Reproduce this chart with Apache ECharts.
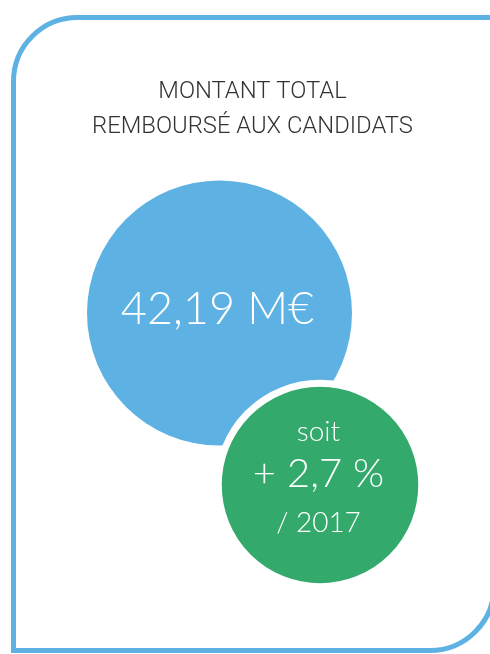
<!DOCTYPE html>
<html>
<head>
<meta charset="utf-8">
<script src="https://cdn.jsdelivr.net/npm/echarts@6/dist/echarts.min.js"></script>
<style>
  html, body { margin: 0; padding: 0; background: #fff; }
  #main { width: 490px; height: 654px; }
</style>
</head>
<body>
<div id="main"></div>
<script>
// donnees
var titleLines = ['MONTANT TOTAL', 'REMBOURSÉ AUX CANDIDATS'];
var bubbleNames = ['montant', 'evolution'];
var bubbleValues = ['42,19 M€', '+ 2,7 %'];
var bubbleBefore = ['', 'soit'];
var bubbleAfter = ['', '/ 2017'];

// mise en page (pixels)
var bubbleX = [219.5, 320];
var bubbleY = [313, 485];
var bubbleSize = [265, 203.5];
var bubbleColors = ['#5DB2E3', '#34A96C'];

var myChart = echarts.init(document.getElementById('main'));

var seriesData = [];
for (var i = 0; i < bubbleNames.length; i++) {
  seriesData.push({
    name: bubbleNames[i],
    value: [bubbleX[i], bubbleY[i]],
    symbolSize: bubbleSize[i],
    itemStyle: {
      color: bubbleColors[i],
      opacity: 1,
      borderColor: '#fff',
      borderWidth: i == 1 ? 7 : 0
    }
  });
}

var option = {
  animation: false,
  grid: { left: 0, right: 0, top: 0, bottom: 0 },
  xAxis: { type: 'value', min: 0, max: 490, show: false },
  yAxis: { type: 'value', min: 0, max: 654, inverse: true, show: false },
  graphic: [
    {
      type: 'rect',
      silent: true,
      shape: { x: 13.5, y: 17.5, width: 480.5, height: 633, r: [64, 0, 64, 0] },
      style: { fill: 'none', stroke: '#5DB2E3', lineWidth: 5 }
    },
    {
      type: 'text',
      silent: true,
      x: 252.5,
      y: 75,
      style: {
        text: titleLines.join('\n'),
        fill: '#333',
        font: '300 23.8px Roboto',
        lineHeight: 35,
        align: 'center',
        verticalAlign: 'top'
      }
    }
  ],
  series: [{
    type: 'scatter',
    symbol: 'circle',
    silent: true,
    data: seriesData,
    label: {
      show: true,
      position: 'inside',
      color: '#fff',
      fontFamily: 'Lato',
      fontWeight: 300,
      formatter: function (p) {
        var i = p.dataIndex;
        if (bubbleBefore[i] === '') return '{big|' + bubbleValues[i] + '}';
        return '{sm|' + bubbleBefore[i] + '}\n{mid|' + bubbleValues[i] + '}\n{sm2|' + bubbleAfter[i] + '}';
      },
      rich: {
        big: { fontSize: 45, fontFamily: 'Lato', fontWeight: 300, color: '#fff', lineHeight: 50 },
        sm: { fontSize: 28, fontFamily: 'Lato', fontWeight: 300, color: '#fff', lineHeight: 40.6 },
        mid: { fontSize: 40, fontFamily: 'Lato', fontWeight: 300, color: '#fff', lineHeight: 44 },
        sm2: { fontSize: 28, fontFamily: 'Lato', fontWeight: 300, color: '#fff', lineHeight: 52.8 }
      }
    },
    labelLayout: function (params) {
      if (params.dataIndex == 0) return { dx: -2, dy: -3.2 };
      return { dx: -1.5, dy: -4.6 };
    }
  }]
};

myChart.setOption(option);
</script>
</body>
</html>
